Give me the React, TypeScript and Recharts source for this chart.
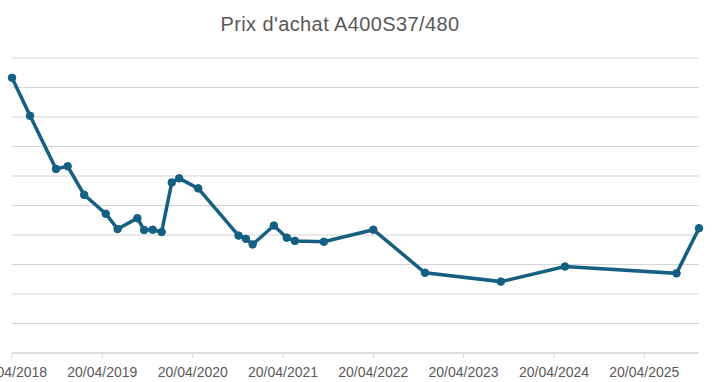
import { CartesianGrid, Line, LineChart, XAxis, YAxis } from "recharts";

const dates = [
  "2018-04-20", "2018-07-02", "2018-10-15", "2018-12-01", "2019-02-06",
  "2019-05-04", "2019-06-21", "2019-09-09", "2019-10-06", "2019-11-10",
  "2019-12-16", "2020-01-26", "2020-02-25", "2020-05-12", "2020-10-22",
  "2020-11-21", "2020-12-18", "2021-03-14", "2021-05-05", "2021-06-07",
  "2021-10-02", "2022-04-20", "2022-11-15", "2023-09-18", "2024-06-03",
  "2025-08-28", "2025-11-27",
];

const prices = [
  93.3, 80.4, 62.4, 63.3, 53.6,
  47.2, 42.0, 45.7, 41.7, 41.8,
  41.0, 57.8, 59.2, 55.8, 39.8,
  38.7, 36.8, 43.2, 39.1, 38.0,
  37.7, 41.8, 27.2, 24.2, 29.3,
  27.0, 42.3,
];

const tickDates = [
  "2018-04-20", "2019-04-20", "2020-04-20", "2021-04-20",
  "2022-04-20", "2023-04-20", "2024-04-20", "2025-04-20",
];

const yTicks = [0, 10, 20, 30, 40, 50, 60, 70, 80, 90, 100];

const toTime = (d: string) => new Date(d + "T00:00:00Z").getTime();

const data = dates.map((d, i) => ({ t: toTime(d), price: prices[i] }));
const xTicks = tickDates.map(toTime);

const fmt = (v: number) => {
  const d = new Date(v);
  const dd = String(d.getUTCDate()).padStart(2, "0");
  const mm = String(d.getUTCMonth() + 1).padStart(2, "0");
  return `${dd}/${mm}/${d.getUTCFullYear()}`;
};

const blue = "#156082";
const grey = "#d4d4d4";

export default function App() {
  return (
    <div style={{ position: "absolute", left: 0, top: 0, width: 712, height: 382, background: "#fff", fontFamily: "'Liberation Sans', Arial, sans-serif" }}>
      <div style={{ position: "absolute", left: 0, width: 680, top: 13, textAlign: "center", fontSize: 20, letterSpacing: 0.4, color: "#595959" }}>
        Prix d'achat A400S37/480
      </div>
      <LineChart width={712} height={382} data={data} margin={{ top: 58, right: 13, bottom: 0, left: 12 }}>
        <CartesianGrid vertical={false} stroke={grey} strokeWidth={1} />
        <XAxis
          dataKey="t"
          type="number"
          scale="time"
          domain={[data[0].t, data[data.length - 1].t]}
          ticks={xTicks}
          interval={0}
          tickFormatter={fmt}
          height={29}
          axisLine={{ stroke: grey }}
          tickLine={{ stroke: grey }}
          tickSize={5}
          tickMargin={9}
          tick={{ fill: "#595959", fontSize: 14 }}
        />
        <YAxis
          domain={[0, 100]}
          ticks={yTicks}
          interval={0}
          width={0}
          tick={{ fill: "transparent", fontSize: 1 }}
          axisLine={false}
          tickLine={false}
        />
        <Line
          type="linear"
          dataKey="price"
          stroke={blue}
          strokeWidth={3.5}
          dot={{ r: 3.8, fill: blue, stroke: blue, strokeWidth: 1 }}
          isAnimationActive={false}
        />
      </LineChart>
    </div>
  );
}
